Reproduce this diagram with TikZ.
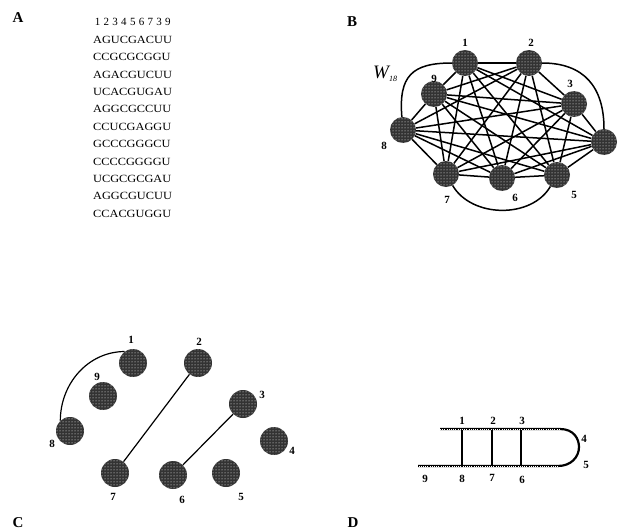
\documentclass[tikz,border=0pt]{standalone}
\usepackage{fontspec}
\setmainfont{Liberation Serif}
\usetikzlibrary{patterns,backgrounds}
\newcommand\dg[1]{\makebox[8.8pt]{#1}}
\newcommand\sq[1]{\scalebox{1.12}[1]{#1}}
\begin{document}
\begin{tikzpicture}[x=1pt,y=-1pt,
  ball/.style={circle,minimum size=26pt,inner sep=0pt,preaction={fill=black!80},pattern=dots,pattern color=white},
  cball/.style={ball,minimum size=28pt},
  lbl/.style={font=\fontsize{11}{11}\selectfont\bfseries,inner sep=0pt},
  panel/.style={font=\fontsize{15}{15}\selectfont\bfseries,inner sep=0pt},
  seq/.style={font=\fontsize{11}{11}\selectfont,inner sep=0pt,anchor=west},
  edge/.style={line width=1.5pt},
  cedge/.style={line width=1.2pt},
  strand/.style={line width=2.2pt},
  tex/.style={white,line width=0.6pt,dash pattern=on 0.8pt off 1.4pt},
]
\useasboundingbox (0,0) rectangle (622,530);

% panel letters
\node[panel] (pA) at (18,18) {A};
\node[panel] (pB) at (352,22) {B};
\node[panel] (pC) at (18,523) {C};
\node[panel] (pD) at (353,523) {D};

% ---------- A ----------
\node[seq] (a0) at (93,21.7) {\dg1\dg2\dg3\dg4\dg5\dg6\dg7\dg3\dg9};
\foreach \s [count=\k from 0] in {AGUCGACUU,CCGCGCGGU,AGACGUCUU,UCACGUGAU,AGGCGCCUU,CCUCGAGGU,GCCCGGGCU,CCCCGGGGU,UCGCGCGAU,AGGCGUCUU,CCACGUGGU}
  \node[seq] (a\k) at (93,{40+17.35*\k}) {\sq{\s}};

% ---------- B ----------
\node[ball] (b1) at (465,63) {};
\node[ball] (b2) at (529,63) {};
\node[ball] (b9) at (434,94) {};
\node[ball] (b3) at (574,104) {};
\node[ball] (b8) at (403,130) {};
\node[ball] (b4) at (604,142) {};
\node[ball] (b7) at (446,174) {};
\node[ball] (b6) at (502,178) {};
\node[ball] (b5) at (557,175) {};
\begin{pgfonlayer}{background}
\foreach \i in {1,...,9}{\foreach \j in {1,...,9}{%
  \pgfmathtruncatemacro\k{\i*10+\j}%
  \ifnum\i<\j
    \ifnum\k=18 \else\ifnum\k=24 \else\ifnum\k=57 \else
      \draw[edge] (b\i) -- (b\j);
    \fi\fi\fi
  \fi}}
\draw[edge] (b8.95) .. controls (398.5,76) and (412,63) .. (b1.180);
\draw[edge] (b2.0) .. controls (584,63) and (604,87) .. (b4.90);
\draw[edge] (b7.-60) .. controls (471.5,218) and (531.5,219) .. (b5.-120);
\end{pgfonlayer}
\node[lbl] (lb1) at (465,43) {1};
\node[lbl] (lb2) at (531,43) {2};
\node[lbl] (lb9) at (434,79) {9};
\node[lbl] (lb3) at (570,84) {3};
\node[lbl] (lb8) at (384,146) {8};
\node[lbl] (lb7) at (447,200) {7};
\node[lbl] (lb6) at (515,198) {6};
\node[lbl] (lb5) at (574,195) {5};
\node[inner sep=0pt,anchor=base west] (w18) at (373,78)
  {\fontsize{19}{19}\selectfont\itshape W\raisebox{-3pt}{\fontsize{8}{8}\selectfont 18}};

% ---------- C ----------
\node[cball] (c1) at (133,363) {};
\node[cball] (c2) at (198,363) {};
\node[cball] (c9) at (103,396) {};
\node[cball] (c3) at (243,404) {};
\node[cball] (c8) at (70,431) {};
\node[cball] (c4) at (274,441) {};
\node[cball] (c7) at (115,473) {};
\node[cball] (c6) at (173,475) {};
\node[cball] (c5) at (226,473) {};
\draw[cedge] (c2) -- (c7);
\draw[cedge] (c3) -- (c6);
\draw[cedge] (c1.126) .. controls (87.8,351.7) and (60.4,383.8) .. (c8.133);
\node[lbl] (lc1) at (131,340) {1};
\node[lbl] (lc2) at (199,342) {2};
\node[lbl] (lc9) at (97,377) {9};
\node[lbl] (lc3) at (262,395) {3};
\node[lbl] (lc8) at (52,444) {8};
\node[lbl] (lc4) at (292,451) {4};
\node[lbl] (lc7) at (113,497) {7};
\node[lbl] (lc6) at (182,500) {6};
\node[lbl] (lc5) at (241,497) {5};

% ---------- D ----------
\coordinate (ts) at (440,429);
\coordinate (t1) at (462,429);
\coordinate (t2) at (492,429);
\coordinate (t3) at (521,429);
\coordinate (te) at (560,429);
\coordinate (be) at (558,466);
\coordinate (b8x) at (462,466);
\coordinate (b7x) at (492,466);
\coordinate (b6x) at (521,466);
\coordinate (bs) at (418,466);
\draw[strand] (ts) -- (te) .. controls (574,429) and (579,439) .. (579,447)
   .. controls (579,457) and (571,466) .. (be) -- (bs);
\draw[cedge,line width=1.5pt] (t1) -- (b8x);
\draw[cedge,line width=1.5pt] (t2) -- (b7x);
\draw[cedge,line width=1.5pt] (t3) -- (b6x);
\draw[tex,yshift=-0.8pt] (ts) -- (te);
\draw[tex,yshift=-0.8pt] (be) -- (bs);
\node[lbl] (ld1) at (462,421) {1};
\node[lbl] (ld2) at (493,421) {2};
\node[lbl] (ld3) at (522,421) {3};
\node[lbl] (ld4) at (584,439) {4};
\node[lbl] (ld5) at (586,465) {5};
\node[lbl] (ld9) at (425,479) {9};
\node[lbl] (ld8) at (462,479) {8};
\node[lbl] (ld7) at (492,478) {7};
\node[lbl] (ld6) at (522,480) {6};
\end{tikzpicture}
\end{document}
